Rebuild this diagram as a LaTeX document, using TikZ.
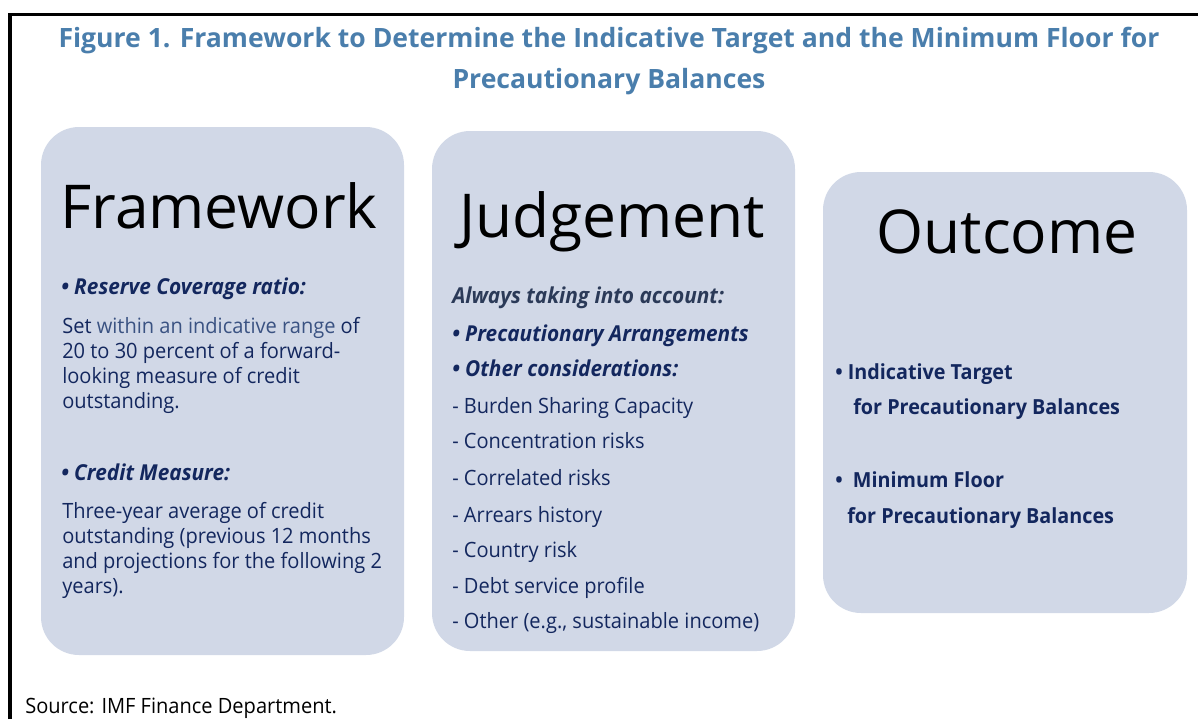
\documentclass[tikz,border=0pt]{standalone}
\usepackage{fontspec}
\setmainfont{Open Sans}
\newfontfamily\narrowfont[FakeStretch=0.95]{Open Sans}
\usetikzlibrary{calc}
\definecolor{titleblue}{HTML}{4A7EAC}
\definecolor{boxfill}{HTML}{D1D8E7}
\definecolor{navy}{HTML}{13275E}
\definecolor{midblue}{HTML}{3A5282}
\definecolor{slate}{HTML}{2B3A58}
\tikzset{
	panel/.style={fill=boxfill, rounded corners=0.95cm},
	headword/.style={anchor=base, font=\fontsize{43}{50}\selectfont, text=black, inner sep=0pt},
	line/.style={anchor=base west, font=\narrowfont\fontsize{15}{18}\selectfont, text=navy, inner sep=0pt},
	lead/.style={line, font=\narrowfont\fontsize{15.6}{18}\selectfont\bfseries\itshape},
	result/.style={line, font=\narrowfont\fontsize{14.8}{18}\selectfont\bfseries},
}

\begin{document}
\begin{tikzpicture}[x=0.025cm, y=-0.025cm]
			%%%%% START %%%%%
			\useasboundingbox (0, 0) rectangle (1198, 719);
			
			\draw[line width=0.075cm] (10, 719) -- (10, 14) -- (1198, 14);
			
			\node[anchor=base, text=titleblue, font=\fontsize{18.9}{22}\selectfont\bfseries, inner sep=0pt] (title1) at (609, 47) {Figure 1. Framework to Determine the Indicative Target and the Minimum Floor for};
			\node[anchor=base, text=titleblue, font=\fontsize{18.9}{22}\selectfont\bfseries, inner sep=0pt] (title2) at (609, 88) {Precautionary Balances};
			
			\fill[panel] (41, 127) rectangle (404, 655);
			\fill[panel] (432, 131) rectangle (795, 651);
			\fill[panel] (823, 172) rectangle (1187, 613);
			
			\node[headword] (framework) at (219, 228) {Framework};
			\node[headword] (judgement) at (612, 237) {Judgement};
			\node[headword] (outcome) at (1007, 253) {Outcome};
			
			% framework column
			\node[lead] (coverage) at (61, 294) {\textbullet\ Reserve Coverage ratio:};
			\node[line] (fw1) at (62, 333) {Set \textcolor{midblue}{within an indicative range} of};
			\node[line] (fw2) at (62, 358) {20 to 30 percent of a forward-};
			\node[line] (fw3) at (62, 383) {looking measure of credit};
			\node[line] (fw4) at (62, 408) {outstanding.};
			\node[lead] (measure) at (61, 480) {\textbullet\ Credit Measure:};
			\node[line] (fw5) at (62, 518) {Three-year average of credit};
			\node[line] (fw6) at (62, 543) {outstanding (previous 12 months};
			\node[line] (fw7) at (62, 568) {and projections for the following 2};
			\node[line] (fw8) at (62, 593) {years).};
			
			% judgement column
			\node[lead, text=slate] (always) at (452, 303) {Always taking into account:};
			\node[lead] (arrange) at (452, 341) {\textbullet\ Precautionary Arrangements};
			\node[lead] (other) at (452, 376) {\textbullet\ Other considerations:};
			\node[line] (jd1) at (452, 413) {- Burden Sharing Capacity};
			\node[line] (jd2) at (452, 448) {- Concentration risks};
			\node[line] (jd3) at (452, 485) {- Correlated risks};
			\node[line] (jd4) at (452, 522) {- Arrears history};
			\node[line] (jd5) at (452, 557) {- Country risk};
			\node[line] (jd6) at (452, 593) {- Debt service profile};
			\node[line] (jd7) at (452, 628) {- Other (e.g., sustainable income)};
			
			% outcome column
			\node[result] (target) at (835, 379) {\textbullet\ Indicative Target};
			\node[result] (target2) at (853, 414) {for Precautionary Balances};
			\node[result] (floor) at (835, 487) {\textbullet\ \ Minimum Floor};
			\node[result] (floor2) at (847, 523) {for Precautionary Balances};
			
			\node[line, text=black] (source) at (25, 713) {Source: IMF Finance Department.};
			%%%%% END %%%%%
		\end{tikzpicture}
\end{document}
